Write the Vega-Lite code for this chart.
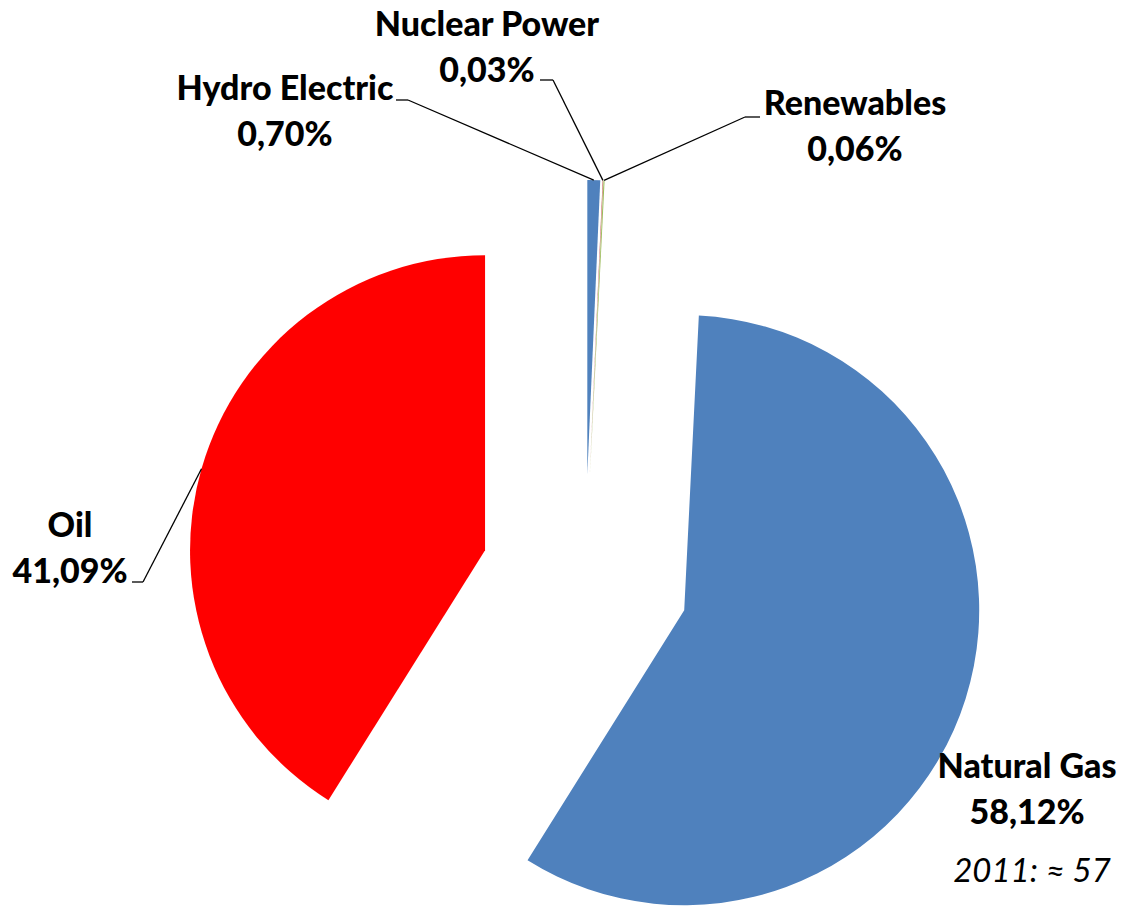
{
  "$schema": "https://vega.github.io/schema/vega-lite/v6.json",
  "autosize": {"type": "none"},
  "padding": {"left": 48, "top": 251, "right": 0, "bottom": 0},
  "width": 1074,
  "height": 656,
  "background": "white",
  "config": {"view": {"stroke": null}},
  "data": {
    "values": [
      {"source": "Hydro Electric", "pct": 0.70, "order": 1},
      {"source": "Nuclear Power", "pct": 0.03, "order": 2},
      {"source": "Renewables", "pct": 0.06, "order": 3},
      {"source": "Natural Gas", "pct": 58.12, "order": 4},
      {"source": "Oil", "pct": 41.09, "order": 5}
    ]
  },
  "transform": [
    {"window": [{"op": "sum", "field": "pct", "as": "cum"}], "sort": [{"field": "order"}], "frame": [null, 0]},
    {"calculate": "datum.source + '\\n' + replace(format(datum.pct, '.2f'), '.', ',') + '%'", "as": "label"}
  ],
  "layer": [
    {
      "mark": {
        "type": "arc",
        "radius": 295,
        "xOffset": {"expr": "104*sin(2*PI*(datum.cum - datum.pct/2)/100)"},
        "yOffset": {"expr": "-104*cos(2*PI*(datum.cum - datum.pct/2)/100)"}
      },
      "encoding": {
        "theta": {"field": "pct", "type": "quantitative", "stack": true, "scale": {"domain": [0, 100]}},
        "order": {"field": "order", "type": "quantitative"},
        "color": {
          "field": "source", "type": "nominal", "legend": null,
          "scale": {
            "domain": ["Hydro Electric", "Nuclear Power", "Renewables", "Natural Gas", "Oil"],
            "range": ["#4F81BD", "#C0504D", "#9BBB59", "#4F81BD", "#FF0000"]
          }
        }
      }
    },
    {
      "transform": [{"filter": "datum.source !== 'Natural Gas'"}],
      "mark": {"type": "rule", "color": "black", "strokeWidth": 1.3},
      "encoding": {
        "x": {"value": {"expr": "width/2 + 399*sin(2*PI*(datum.cum - datum.pct/2)/100)"}},
        "y": {"value": {"expr": "height/2 - 399*cos(2*PI*(datum.cum - datum.pct/2)/100)"}},
        "x2": {"value": {"expr": "datum.source==='Hydro Electric' ? 360 : datum.source==='Nuclear Power' ? 505 : datum.source==='Renewables' ? 697 : 95"}},
        "y2": {"value": {"expr": "datum.source==='Hydro Electric' ? -151 : datum.source==='Nuclear Power' ? -171 : datum.source==='Renewables' ? -134 : 331"}}
      }
    },
    {
      "transform": [{"filter": "datum.source !== 'Natural Gas'"}],
      "mark": {"type": "rule", "color": "black", "strokeWidth": 1.3},
      "encoding": {
        "x": {"value": {"expr": "datum.source==='Hydro Electric' ? 360 : datum.source==='Nuclear Power' ? 505 : datum.source==='Renewables' ? 697 : 95"}},
        "x2": {"value": {"expr": "datum.source==='Hydro Electric' ? 348 : datum.source==='Nuclear Power' ? 492 : datum.source==='Renewables' ? 712 : 84"}},
        "y": {"value": {"expr": "datum.source==='Hydro Electric' ? -151 : datum.source==='Nuclear Power' ? -171 : datum.source==='Renewables' ? -134 : 331"}},
        "y2": {"value": {"expr": "datum.source==='Hydro Electric' ? -151 : datum.source==='Nuclear Power' ? -171 : datum.source==='Renewables' ? -134 : 331"}}
      }
    },
    {
      "mark": {
        "type": "text",
        "font": "Lato",
        "fontWeight": 900,
        "fontSize": 34,
        "color": "black",
        "align": "center",
        "baseline": "alphabetic",
        "lineBreak": "\n",
        "lineHeight": 46,
        "x": {"expr": "datum.source==='Nuclear Power' ? 439 : datum.source==='Hydro Electric' ? 237 : datum.source==='Renewables' ? 807 : datum.source==='Oil' ? 22 : 979"},
        "y": {"expr": "datum.source==='Nuclear Power' ? -215 : datum.source==='Hydro Electric' ? -151 : datum.source==='Renewables' ? -136 : datum.source==='Oil' ? 286 : 527"}
      },
      "encoding": {
        "text": {"field": "label", "type": "nominal"}
      }
    },
    {
      "data": {"values": [{"note": "2011: ≈ 57"}]},
      "transform": [],
      "mark": {
        "type": "text",
        "font": "Lato",
        "fontStyle": "italic",
        "fontSize": 33,
        "color": "black",
        "align": "center",
        "baseline": "alphabetic",
        "x": 984,
        "y": 631
      },
      "encoding": {
        "text": {"field": "note", "type": "nominal"}
      }
    }
  ]
}
